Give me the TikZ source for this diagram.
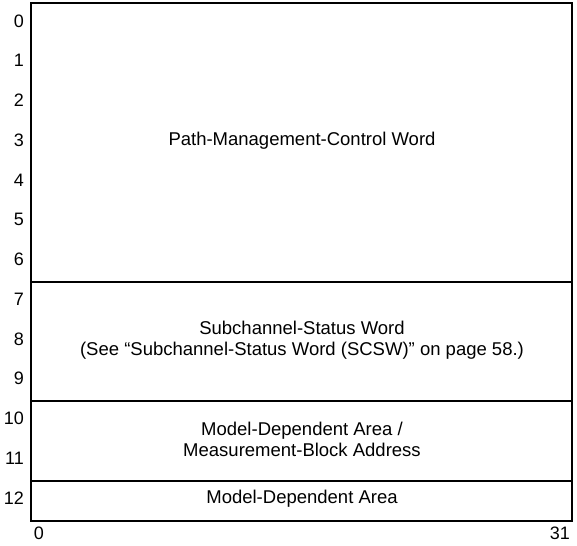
\documentclass[tikz,border=0pt]{standalone}
\usepackage{fontspec}
\setmainfont{Liberation Sans}
\begin{document}
\begin{tikzpicture}[x=1pt,y=-1pt,
  rowlbl/.style={anchor=east,inner sep=0pt,font=\fontsize{18}{21}\selectfont},
  fieldtxt/.style={align=center,inner sep=0pt,font=\fontsize{18.5}{21.5}\selectfont},
  collbl/.style={inner sep=0pt,font=\fontsize{18}{21}\selectfont}]
\useasboundingbox (0,0) rectangle (577,545);
\coordinate (tl) at (31,3);
\coordinate (br) at (572,521);
\draw[line width=1.6pt] (tl) rectangle (br);
\draw[line width=1.1pt] (31,282) -- (572,282);
\draw[line width=1.1pt] (31,401) -- (572,401);
\draw[line width=1.1pt] (31,481) -- (572,481);
\foreach \i in {0,...,12}{
  \node[rowlbl] (r\i) at (24,{21+39.75*\i}) {\i};
}
\node[fieldtxt] (pmcw) at (302,141) {Path-Management-Control Word};
\node[fieldtxt] (scsw) at (302,340) {Subchannel-Status Word\\(See “Subchannel-Status Word (SCSW)” on page 58.)};
\node[fieldtxt] (mda) at (302,439.5) {Model-Dependent Area /\\Measurement-Block Address};
\node[fieldtxt] (mda2) at (302,499) {Model-Dependent Area};
\node[collbl] (c0) at (39,533) {0};
\node[collbl,anchor=east] (c31) at (570,533) {31};
\end{tikzpicture}
\end{document}
